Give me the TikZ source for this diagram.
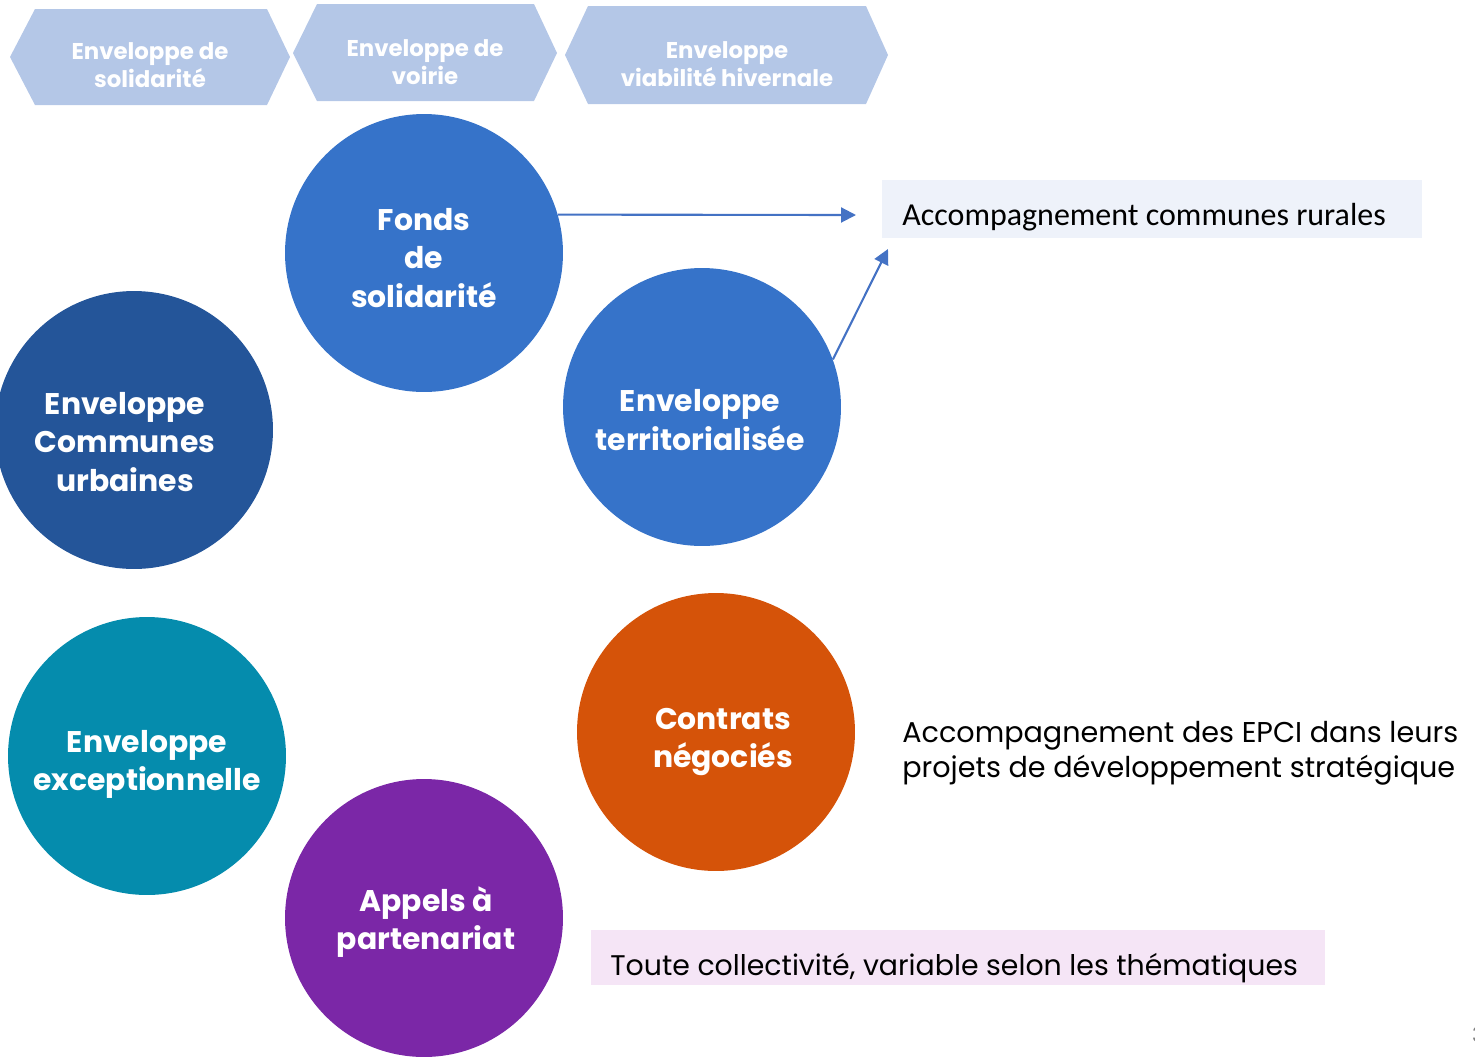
\documentclass[tikz,border=0pt]{standalone}
\usepackage{fontspec}
\setmainfont{Poppins}
\newfontfamily\calibri{Carlito}
\usetikzlibrary{arrows.meta}

\definecolor{chevblue}{HTML}{B4C7E7}
\definecolor{midblue}{HTML}{3673C9}
\definecolor{darkblue}{HTML}{245599}
\definecolor{tealblue}{HTML}{058CAD}
\definecolor{burnt}{HTML}{D55309}
\definecolor{violet}{HTML}{7B27A7}
\definecolor{arrowblue}{HTML}{4472C4}
\definecolor{paleblue}{HTML}{EEF2FA}
\definecolor{palepink}{HTML}{F5E5F6}

\begin{document}
\begin{tikzpicture}[
    x = 0.02cm,
    y = -0.02cm,
    >={Triangle[length=0.3cm,width=0.3cm]},
    chevtext/.style = {
      align = center,
      text = white,
      font = \fontsize{13}{16.2}\selectfont\bfseries
    },
    bubble/.style = {
      circle,
      inner sep = 0pt,
      minimum size = 5.56cm
    },
    bubbletext/.style = {
      align = center,
      text = white,
      font = \fontsize{17}{21.7}\selectfont\bfseries
    },
    note/.style = {
      anchor = west,
      inner sep = 0pt,
      align = left
    },
    link/.style = {
      ->,
      draw = arrowblue,
      line width = 1.2pt
    }
  ]
  \useasboundingbox (0,0) rectangle (1475,1056);

  % chevrons
  \fill[chevblue] (10,57) -- (35,9) -- (267,9) -- (290,57) -- (267,105) -- (35,105) -- cycle;
  \fill[chevblue] (293,53) -- (317,4) -- (534,4) -- (557,53) -- (534,101) -- (317,101) -- cycle;
  \fill[chevblue] (565,55) -- (588,6) -- (866,6) -- (888,55) -- (866,104) -- (588,104) -- cycle;

  \node[chevtext] (solid) at (150,65) {Enveloppe de\\solidarité};
  \node[chevtext] (voirie) at (425,62) {Enveloppe de\\voirie};
  \node[chevtext] (hiver) at (727,64) {Enveloppe\\viabilité hivernale};

  % bubbles
  \node[bubble, fill = midblue] (fonds) at (424,253) {};
  \node[bubble, fill = midblue] (terr) at (702,407) {};
  \node[bubble, fill = darkblue] (urb) at (134,430) {};
  \node[bubble, fill = tealblue] (excep) at (147,756) {};
  \node[bubble, fill = burnt] (contrats) at (716,732) {};
  \node[bubble, fill = violet] (appels) at (424,918) {};

  \node[bubbletext] (fondstxt) at (424,258) {Fonds\\de\\solidarité};
  \node[bubbletext] (terrtxt) at (700,420) {Enveloppe\\territorialisée};
  \node[bubbletext] (urbtxt) at (125,442) {Enveloppe\\Communes\\urbaines};
  \node[bubbletext] (exceptxt) at (147,764) {Enveloppe\\exceptionnelle};
  \node[bubbletext] (contratstxt) at (723,742) {Contrats\\négociés};
  \node[bubbletext] (appelstxt) at (426,922) {Appels à\\partenariat};

  % notes
  \fill[paleblue] (882,180) rectangle (1422,238);
  \node[note, font = \calibri\fontsize{18.2}{21}\selectfont] (rurales) at (902,217) {Accompagnement communes rurales};

  \node[note, font = \fontsize{16.3}{20}\selectfont] (epci) at (902,753) {Accompagnement des EPCI dans leurs\\projets de développement stratégique};

  \fill[palepink] (591,930) rectangle (1325,985);
  \node[note, font = \fontsize{16.15}{19}\selectfont] (toute) at (610,968) {Toute collectivité, variable selon les thématiques};

  \coordinate (r1) at (856,215);
  \coordinate (r2) at (888,249);
  \draw[link] (fonds.16) -- (r1);
  \draw[link] (terr.20) -- (r2);

  \node[anchor = west, text = gray, font = \fontsize{12}{14}\selectfont] (page) at (1466,1035) {3};

\end{tikzpicture}
\end{document}
